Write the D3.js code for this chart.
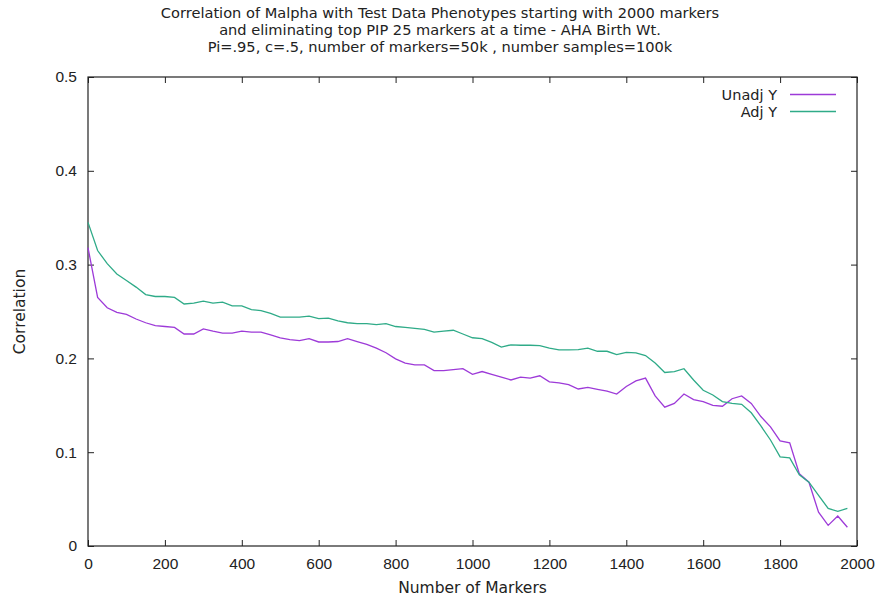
<!DOCTYPE html>
<html>
<head>
<meta charset="utf-8">
<script src="https://cdn.jsdelivr.net/npm/d3@7"></script>
<style>
  body { margin: 0; background: #fff; }
  svg { display: block; font-family: "DejaVu Sans", sans-serif; }
  .title { font-size: 14.6px; fill: #222; }
  .tick text { font-size: 15.5px; fill: #222; }
  .label { font-size: 15.5px; fill: #222; }
  .legend { font-size: 14.5px; fill: #222; }
</style>
</head>
<body>
<div id="chart"></div>
<script>
// markers eliminated, 25 at a time
const markers = d3.range(0, 2000, 25);

const unadjY = [
  0.318, 0.265, 0.254, 0.249, 0.247, 0.242, 0.238, 0.235, 0.234, 0.233,
  0.226, 0.226, 0.2315, 0.229, 0.227, 0.227, 0.229, 0.228, 0.228, 0.225,
  0.222, 0.220, 0.219, 0.221, 0.2175, 0.2175, 0.218, 0.221, 0.218, 0.215,
  0.211, 0.206, 0.1995, 0.195, 0.193, 0.193, 0.187, 0.187, 0.188, 0.189,
  0.183, 0.186, 0.183, 0.180, 0.177, 0.180, 0.179, 0.1815, 0.175, 0.174,
  0.172, 0.1674, 0.169, 0.167, 0.165, 0.162, 0.170, 0.176, 0.179, 0.160,
  0.148, 0.152, 0.162, 0.156, 0.154, 0.150, 0.149, 0.157, 0.160, 0.152,
  0.138, 0.127, 0.112, 0.110, 0.077, 0.068, 0.036, 0.022, 0.032, 0.020
];

const adjY = [
  0.345, 0.315, 0.301, 0.290, 0.283, 0.276, 0.268, 0.266, 0.266, 0.265,
  0.258, 0.259, 0.261, 0.259, 0.260, 0.256, 0.256, 0.252, 0.251, 0.248,
  0.244, 0.244, 0.244, 0.245, 0.2425, 0.243, 0.240, 0.238, 0.237, 0.237,
  0.236, 0.237, 0.234, 0.233, 0.232, 0.231, 0.228, 0.229, 0.230, 0.226,
  0.222, 0.221, 0.217, 0.212, 0.2145, 0.214, 0.214, 0.2137, 0.211, 0.209,
  0.209, 0.2094, 0.211, 0.2076, 0.2076, 0.204, 0.2065, 0.206, 0.203, 0.195,
  0.185, 0.186, 0.189, 0.177, 0.166, 0.161, 0.154, 0.152, 0.151, 0.142,
  0.128, 0.113, 0.095, 0.094, 0.076, 0.068, 0.054, 0.040, 0.037, 0.040
];

const seriesNames = ['Unadj Y', 'Adj Y'];
const xTicks = d3.range(0, 2001, 200);
const yTicks = [0, 0.1, 0.2, 0.3, 0.4, 0.5];

const titleLines = [
  'Correlation of Malpha with Test Data Phenotypes starting with 2000 markers',
  'and eliminating top PIP 25 markers at a time - AHA Birth Wt.',
  'Pi=.95, c=.5, number of markers=50k , number samples=100k'
];

const colors = ['#9d3ad8', '#2fab88'];

const width = 881, height = 601;
const margin = { left: 88, top: 77, right: 24, bottom: 55 };
const innerW = width - margin.left - margin.right;
const innerH = height - margin.top - margin.bottom;

const svg = d3.select('#chart')
  .append('svg')
  .attr('width', width)
  .attr('height', height);

const x = d3.scaleLinear().domain([0, 2000]).range([0, innerW]);
const y = d3.scaleLinear().domain([0, 0.5]).range([innerH, 0]);

const g = svg.append('g')
  .attr('transform', 'translate(' + [margin.left, margin.top] + ')');

// title
svg.append('g')
  .selectAll('text')
  .data(titleLines)
  .enter()
  .append('text')
  .attr('class', 'title')
  .attr('x', 440)
  .attr('y', (d, i) => 18 + i * 17)
  .attr('text-anchor', 'middle')
  .text(d => d);

// axes, ticks inward, mirrored
const fmtY = d => d === 0 ? '0' : d3.format('.1f')(d);

g.append('g')
  .attr('transform', 'translate(0,' + innerH + ')')
  .call(d3.axisBottom(x).tickValues(xTicks).tickSize(-6).tickPadding(12).tickFormat(d3.format('d')))
  .call(a => a.select('.domain').remove());

g.append('g')
  .call(d3.axisTop(x).tickValues(xTicks).tickSize(-6).tickFormat(''))
  .call(a => a.select('.domain').remove());

g.append('g')
  .call(d3.axisLeft(y).tickValues(yTicks).tickSize(-6).tickPadding(11).tickFormat(fmtY))
  .call(a => a.select('.domain').remove());

g.append('g')
  .attr('transform', 'translate(' + innerW + ',0)')
  .call(d3.axisRight(y).tickValues(yTicks).tickSize(-6).tickFormat(''))
  .call(a => a.select('.domain').remove());

g.selectAll('.tick line').attr('stroke', '#222').attr('stroke-width', 1);

g.append('rect')
  .attr('width', innerW)
  .attr('height', innerH)
  .attr('fill', 'none')
  .attr('stroke', '#222')
  .attr('stroke-width', 1.2);

// lines
const line = d3.line()
  .x((d, i) => x(markers[i]))
  .y(d => y(d));

g.selectAll('path.series')
  .data([unadjY, adjY])
  .enter()
  .append('path')
  .attr('class', 'series')
  .attr('fill', 'none')
  .attr('stroke', (d, i) => colors[i])
  .attr('stroke-width', 1.3)
  .attr('d', line);

// legend
const legend = g.append('g')
  .selectAll('g')
  .data(seriesNames)
  .enter()
  .append('g')
  .attr('transform', (d, i) => 'translate(' + [innerW - 80, 17.5 + i * 17] + ')');

legend.append('text')
  .attr('class', 'legend')
  .attr('x', 0)
  .attr('dy', '0.35em')
  .attr('text-anchor', 'end')
  .text(d => d);

legend.append('line')
  .attr('x1', 13)
  .attr('x2', 59)
  .attr('stroke', (d, i) => colors[i])
  .attr('stroke-width', 1.3);

// axis labels
svg.append('text')
  .attr('class', 'label')
  .attr('x', margin.left + innerW / 2)
  .attr('y', 593)
  .attr('text-anchor', 'middle')
  .text('Number of Markers');

svg.append('text')
  .attr('class', 'label')
  .attr('transform', 'translate(25,' + (margin.top + innerH / 2) + ') rotate(-90)')
  .attr('text-anchor', 'middle')
  .text('Correlation');
</script>
</body>
</html>
